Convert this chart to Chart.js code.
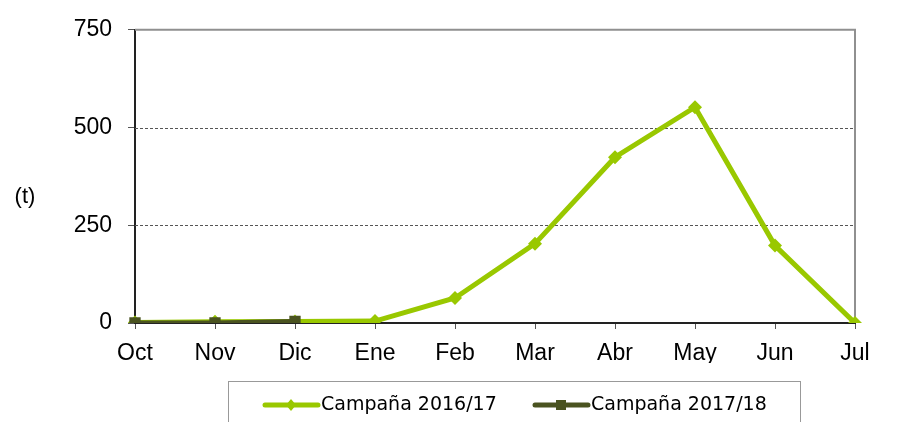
<!DOCTYPE html>
<html>
<head>
<meta charset="utf-8">
<script src="https://cdn.jsdelivr.net/npm/chart.js@4/dist/chart.umd.min.js"></script>
<style>
  html, body { margin: 0; padding: 0; background: #fff; }
  #wrap { width: 899px; height: 422px; position: relative; }
</style>
</head>
<body>
<div id="wrap"><canvas id="chart" width="899" height="422"></canvas></div>
<script>
// ── Data ───────────────────────────────────────────
const months     = ['Oct', 'Nov', 'Dic', 'Ene', 'Feb', 'Mar', 'Abr', 'May', 'Jun', 'Jul'];
const camp1617   = [1, 3, 4, 5, 64, 203, 424, 552, 198, 0];
const camp1718   = [0, 0, 4, null, null, null, null, null, null, null];
const yTicks     = [0, 250, 500, 750];
const yUnit      = '(t)';

const GREEN = '#99c800';
const OLIVE = '#4a5320';

// ── Frame, dashed grid, unit label, legend ─────────
const extras = {
  id: 'extras',
  beforeDatasetsDraw(chart) {
    const { ctx, chartArea: a, scales } = chart;
    ctx.save();
    // dashed gridlines (skip 0 and top)
    ctx.strokeStyle = '#555';
    ctx.lineWidth = 1;
    ctx.setLineDash([3, 2]);
    yTicks.slice(1, -1).forEach(v => {
      const y = Math.round(scales.y.getPixelForValue(v)) + 0.5;
      ctx.beginPath();
      ctx.moveTo(a.left, y);
      ctx.lineTo(a.right, y);
      ctx.stroke();
    });
    ctx.setLineDash([]);
    // top + right frame
    ctx.strokeStyle = '#909090';
    ctx.lineWidth = 2;
    ctx.beginPath();
    ctx.moveTo(a.left, a.top);
    ctx.lineTo(a.right, a.top);
    ctx.lineTo(a.right, a.bottom);
    ctx.stroke();
    ctx.restore();
  },
  afterDraw(chart) {
    const { ctx } = chart;
    ctx.save();
    // unit label
    ctx.fillStyle = '#000';
    ctx.font = '22px "Liberation Sans", Arial, sans-serif';
    ctx.textAlign = 'center';
    ctx.textBaseline = 'middle';
    ctx.fillText(yUnit, 25, 197);

    // legend box
    ctx.strokeStyle = '#999';
    ctx.lineWidth = 1;
    ctx.strokeRect(228.5, 381.5, 572, 60);

    const entries = [
      { x: 265, ds: chart.data.datasets[0] },
      { x: 535, ds: chart.data.datasets[1] },
    ];
    const ly = 405;
    entries.forEach(({ x, ds }) => {
      ctx.strokeStyle = ds.borderColor;
      ctx.lineWidth = 5;
      ctx.lineCap = 'round';
      ctx.beginPath();
      ctx.moveTo(x, ly);
      ctx.lineTo(x + 53, ly);
      ctx.stroke();
      ctx.fillStyle = ds.borderColor;
      const cx = x + 26;
      if (ds.pointStyle === 'rectRot') {
        ctx.beginPath();
        ctx.moveTo(cx, ly - 6);
        ctx.lineTo(cx + 5, ly);
        ctx.lineTo(cx, ly + 6);
        ctx.lineTo(cx - 5, ly);
        ctx.closePath();
        ctx.fill();
      } else {
        ctx.fillRect(cx - 5, ly - 5, 10, 10);
      }
      ctx.fillStyle = '#000';
      ctx.font = '19px "DejaVu Sans", sans-serif';
      ctx.textAlign = 'left';
      ctx.textBaseline = 'middle';
      ctx.fillText(ds.label, x + 56, ly);
    });
    ctx.restore();
  }
};

// ── Chart ──────────────────────────────────────────
new Chart(document.getElementById('chart'), {
  type: 'line',
  data: {
    labels: months,
    datasets: [
      {
        label: 'Campaña 2016/17',
        data: camp1617,
        borderColor: GREEN,
        backgroundColor: GREEN,
        borderWidth: 5,
        pointStyle: 'rectRot',
        pointRadius: 7,
        pointBorderWidth: 0,
        tension: 0,
        order: 2,
      },
      {
        label: 'Campaña 2017/18',
        data: camp1718,
        borderColor: OLIVE,
        backgroundColor: OLIVE,
        borderWidth: 5,
        pointStyle: 'rect',
        pointRadius: 8,
        pointBorderWidth: 0,
        tension: 0,
        spanGaps: false,
        order: 1,
      },
    ]
  },
  options: {
    responsive: false,
    animation: false,
    layout: { padding: { left: 0, right: 44, top: 28, bottom: 59 } },
    plugins: {
      legend: { display: false },
      tooltip: { enabled: false },
    },
    scales: {
      x: {
        offset: false,
        grid: { drawOnChartArea: false, color: '#555', tickLength: 6, lineWidth: 1 },
        border: { color: '#222', width: 2 },
        ticks: {
          color: '#000',
          padding: 11,
          font: { family: '"Liberation Sans", Arial, sans-serif', size: 23 },
          maxRotation: 0,
        },
        afterFit: s => { s.height = 40; },
      },
      y: {
        min: 0,
        max: 750,
        afterBuildTicks: s => { s.ticks = yTicks.map(v => ({ value: v })); },
        grid: { drawOnChartArea: false, color: '#555', tickLength: 7, lineWidth: 1 },
        border: { color: '#222', width: 2 },
        ticks: {
          color: '#000',
          padding: 16,
          font: { family: '"Liberation Sans", Arial, sans-serif', size: 23 },
        },
        afterFit: s => { s.width = 135; },
      }
    }
  },
  plugins: [extras]
});
</script>
</body>
</html>
